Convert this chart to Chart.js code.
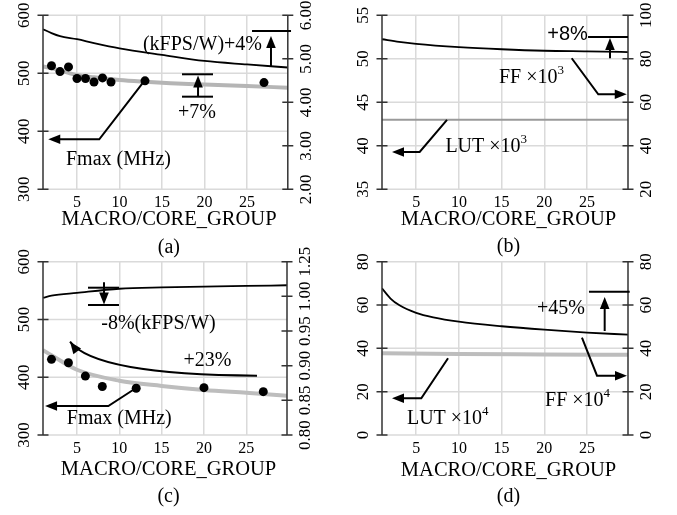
<!DOCTYPE html>
<html><head><meta charset="utf-8">
<script src="https://cdn.jsdelivr.net/npm/chart.js@4.4.0/dist/chart.umd.min.js"></script>
<style>
html,body{margin:0;padding:0;background:#fff;}
#wrap{position:relative;width:677px;height:515px;overflow:hidden;background:#fff;}
#wrap canvas{position:absolute;left:0;top:0;}
</style></head><body>
<div id="wrap">
<canvas id="ca" width="677" height="515"></canvas>
<canvas id="cb" width="677" height="515"></canvas>
<canvas id="cc" width="677" height="515"></canvas>
<canvas id="cd" width="677" height="515"></canvas>
</div>
<script>
// ---------- shared ----------
const xTicks = [5, 10, 15, 20, 25];
const xTitle = 'MACRO/CORE_GROUP';

// ---------- panel (a) ----------
const aDotX = [2, 3, 4, 5, 6, 7, 8, 9, 13, 27];
const aDotY = [513, 503, 511, 491, 491, 485, 492, 485, 487, 484];
const aFitX = [1, 3, 5, 7, 10, 13, 16, 20, 25, 29.8];
const aFitY = [512, 505, 497, 493, 488.5, 485.5, 483, 480.7, 478, 475.2];
const aEffX = [1, 2, 3, 5, 7, 10, 15, 20, 25, 29.8];
const aEffY = [5.68, 5.59, 5.52, 5.45, 5.36, 5.24, 5.09, 4.95, 4.87, 4.80];
const aLeftTicks = [300, 400, 500, 600];
const aRightTicks = [2, 3, 4, 5, 6];
const aRightLabels = ['2.00', '3.00', '4.00', '5.00', '6.00'];

// ---------- panel (b) ----------
const bFfX = [1, 3, 5, 10, 15, 20, 25, 29.8];
const bFfY = [89.0, 87.8, 86.9, 85.4, 84.4, 83.7, 83.4, 83.1];
const bLutX = [1, 10, 20, 29.8];
const bLutY = [43.0, 43.0, 43.0, 43.0];
const bLeftTicks = [35, 40, 45, 50, 55];
const bRightTicks = [20, 40, 60, 80, 100];
const bRightLabels = ['20', '40', '60', '80', '100'];

// ---------- panel (c) ----------
const cDotX = [2, 4, 6, 8, 12, 20, 27];
const cDotY = [431, 425, 402, 384, 381, 382, 375];
const cFitX = [1, 2, 5, 10, 15, 20, 25, 29.8];
const cFitY = [447, 438, 413, 394, 385, 378, 373, 368];
const cEffX = [1, 2, 5, 10, 15, 20, 25, 29.8];
const cEffY = [0.998, 1.001, 1.005, 1.011, 1.013, 1.014, 1.015, 1.016];
const cLeftTicks = [300, 400, 500, 600];
const cRightTicks = [0.80, 0.85, 0.90, 0.95, 1.00, 1.05];
const cRightLabels = ['0.80', '0.85', '0.90', '0.95', '1.00', '1.25'];

// ---------- panel (d) ----------
const dFfX = [1, 2, 3, 5, 7, 10, 15, 20, 25, 29.8];
const dFfY = [67.7, 63.0, 60.0, 56.4, 54.3, 52.3, 50.2, 48.6, 47.3, 46.3];
const dLutX = [1, 10, 20, 29.8];
const dLutY = [37.7, 37.4, 37.2, 37.0];
const dLeftTicks = [0, 20, 40, 60, 80];
const dRightTicks = [0, 20, 40, 60, 80];
const dRightLabels = ['0', '20', '40', '60', '80'];

// ---------- rendering ----------
const SERIF = '"Liberation Serif", "Times New Roman", serif';
const SANS = '"Liberation Sans", Arial, sans-serif';
const GRID = '#dadada';
const AXIS = '#333';
Chart.defaults.font.family = SERIF;
Chart.defaults.color = '#000';

const pts = (xs, ys) => xs.map((x, i) => ({x: x, y: ys[i]}));

function arrowHead(ctx, fx, fy, tx, ty, len, hw) {
  const a = Math.atan2(ty - fy, tx - fx);
  ctx.beginPath();
  ctx.moveTo(tx, ty);
  ctx.lineTo(tx - len * Math.cos(a) + hw * Math.sin(a), ty - len * Math.sin(a) - hw * Math.cos(a));
  ctx.lineTo(tx - len * Math.cos(a) - hw * Math.sin(a), ty - len * Math.sin(a) + hw * Math.cos(a));
  ctx.closePath();
  ctx.fill();
}

function panelPlugin(P) {
  return {
    id: 'panel_' + P.cap,
    beforeDatasetsDraw(chart) {
      const ctx = chart.ctx, a = chart.chartArea, ys = chart.scales.y;
      ctx.save();
      ctx.strokeStyle = GRID; ctx.lineWidth = 1.5;
      P.leftTicks.forEach(v => {
        const py = ys.getPixelForValue(v);
        ctx.beginPath(); ctx.moveTo(a.left, py); ctx.lineTo(a.right, py); ctx.stroke();
      });
      ctx.restore();
    },
    afterDraw(chart) {
      const ctx = chart.ctx, a = chart.chartArea;
      const xs = chart.scales.x, ys = chart.scales.y, yr = chart.scales.y1;
      const X = v => xs.getPixelForValue(v), Y = v => ys.getPixelForValue(v);
      ctx.save();
      // axes
      ctx.strokeStyle = AXIS; ctx.lineWidth = 1.5;
      ctx.beginPath();
      ctx.moveTo(a.left, a.top); ctx.lineTo(a.left, a.bottom);
      ctx.moveTo(a.right, a.top); ctx.lineTo(a.right, a.bottom);
      P.leftTicks.forEach(v => { const py = ys.getPixelForValue(v); ctx.moveTo(a.left - 5.5, py); ctx.lineTo(a.left + 5.5, py); });
      P.rightTicks.forEach(v => { const py = yr.getPixelForValue(v); ctx.moveTo(a.right - 5.5, py); ctx.lineTo(a.right + 5.5, py); });
      ctx.stroke();
      // rotated tick labels
      ctx.fillStyle = '#000';
      ctx.font = '17px ' + SERIF;
      ctx.textAlign = 'center'; ctx.textBaseline = 'middle';
      P.leftTicks.forEach(v => {
        ctx.save(); ctx.translate(a.left - 18, ys.getPixelForValue(v)); ctx.rotate(-Math.PI / 2);
        ctx.fillText(String(v), 0, 0); ctx.restore();
      });
      P.rightTicks.forEach((v, i) => {
        ctx.save(); ctx.translate(a.right + 18.5, yr.getPixelForValue(v)); ctx.rotate(-Math.PI / 2);
        ctx.fillText(P.rightLabels[i], 0, 0); ctx.restore();
      });
      // annotations
      ctx.strokeStyle = '#000'; ctx.fillStyle = '#000'; ctx.lineWidth = 2;
      P.notes.forEach(n => {
        if (n.t === 'path') {
          const p = n.p.map(q => [X(q[0]), Y(q[1])]);
          const L = p.length;
          let end = p[L - 1];
          if (n.arrow) {
            const f = p[L - 2];
            const ang = Math.atan2(end[1] - f[1], end[0] - f[0]);
            end = [end[0] - 9 * Math.cos(ang), end[1] - 9 * Math.sin(ang)];
          }
          ctx.beginPath(); ctx.moveTo(p[0][0], p[0][1]);
          for (let i = 1; i < L - 1; i++) ctx.lineTo(p[i][0], p[i][1]);
          ctx.lineTo(end[0], end[1]);
          ctx.stroke();
          if (n.arrow) arrowHead(ctx, p[L - 2][0], p[L - 2][1], p[L - 1][0], p[L - 1][1], 12, 4.8);
        } else if (n.t === 'curve') {
          const p0 = [X(n.p0[0]), Y(n.p0[1])], c = [X(n.c[0]), Y(n.c[1])], p1 = [X(n.p1[0]), Y(n.p1[1])];
          ctx.beginPath(); ctx.moveTo(p0[0], p0[1]); ctx.quadraticCurveTo(c[0], c[1], p1[0], p1[1]); ctx.stroke();
          arrowHead(ctx, c[0], c[1], p1[0], p1[1], 12, 4.8);
        } else if (n.t === 'text') {
          const cx = X(n.x), cy = Y(n.y);
          const fam = n.sans ? SANS : SERIF;
          ctx.font = (n.size || 20) + 'px ' + fam;
          ctx.textBaseline = 'middle';
          const w1 = ctx.measureText(n.s).width;
          let w2 = 0;
          if (n.sup) { ctx.font = '13px ' + fam; w2 = ctx.measureText(n.sup).width; }
          const left = cx - (w1 + w2) / 2;
          ctx.textAlign = 'left';
          ctx.font = (n.size || 20) + 'px ' + fam;
          ctx.fillText(n.s, left, cy);
          if (n.sup) { ctx.font = '13px ' + fam; ctx.fillText(n.sup, left + w1, cy - 7); }
        }
      });
      // x-axis title and caption
      const mid = (a.left + a.right) / 2 + 3.5;
      ctx.textAlign = 'center'; ctx.textBaseline = 'middle';
      ctx.font = '20.5px ' + SERIF;
      ctx.fillText(xTitle, mid, P.titleY);
      ctx.font = '20px ' + SERIF;
      ctx.fillText('(' + P.cap + ')', mid, P.capY);
      ctx.restore();
    }
  };
}

function makePanel(id, P) {
  new Chart(document.getElementById(id), {
    type: 'line',
    data: {datasets: P.datasets},
    options: {
      responsive: false, animation: false, devicePixelRatio: 1,
      layout: {padding: {left: P.area[0], right: 677 - P.area[1], top: P.area[2], bottom: 515 - P.area[3] - 40}},
      plugins: {legend: {display: false}, tooltip: {enabled: false}, title: {display: false}},
      elements: {point: {radius: 0}, line: {cubicInterpolationMode: 'monotone'}},
      scales: {
        x: {
          type: 'linear', min: 1, max: 29.8,
          afterBuildTicks: s => { s.ticks = xTicks.map(v => ({value: v})); },
          afterFit: s => { s.height = 40; },
          grid: {color: GRID, lineWidth: 1.5, drawTicks: false},
          border: {display: false},
          ticks: {color: '#000', font: {family: SERIF, size: 16}, padding: 4, maxRotation: 0, autoSkip: false},
          title: {display: false, text: xTitle}
        },
        y: {display: false, min: P.yl[0], max: P.yl[1]},
        y1: {display: false, position: 'right', min: P.yr[0], max: P.yr[1]}
      }
    },
    plugins: [panelPlugin(P)]
  });
}

const dotSet = (xs, ys) => ({type: 'scatter', data: pts(xs, ys), yAxisID: 'y', pointRadius: 4.5, pointBackgroundColor: '#000', pointBorderWidth: 0, showLine: false, order: 0});
const graySet = (xs, ys, w, col) => ({data: pts(xs, ys), yAxisID: 'y', borderColor: col, borderWidth: w, pointRadius: 0, fill: false, order: 2});
const blackSet = (xs, ys, ax) => ({data: pts(xs, ys), yAxisID: ax, borderColor: '#000', borderWidth: 1.8, pointRadius: 0, fill: false, order: 1});

makePanel('ca', {
  cap: 'a', capY: 248, titleY: 220, area: [43, 287.8, 15.3, 189.3],
  yl: [300, 600], yr: [2, 6],
  leftTicks: aLeftTicks, rightTicks: aRightTicks, rightLabels: aRightLabels,
  datasets: [dotSet(aDotX, aDotY), graySet(aFitX, aFitY, 4, '#b5b5b5'), blackSet(aEffX, aEffY, 'y1')],
  notes: [
    {t: 'text', x: 19.76, y: 548.8, s: '(kFPS/W)+4%'},
    {t: 'path', p: [[25.59, 572.9], [30.18, 572.9]]},
    {t: 'path', p: [[27.82, 510.9], [27.82, 564.3]], arrow: true},
    {t: 'path', p: [[17.35, 498.3], [21.0, 498.3]]},
    {t: 'path', p: [[17.35, 459.7], [21.0, 459.7]]},
    {t: 'path', p: [[19.24, 459.7], [19.24, 496]], arrow: true},
    {t: 'text', x: 19.12, y: 432.8, s: '+7%'},
    {t: 'path', p: [[12.88, 486.2], [7.62, 386.2], [1.62, 386.2]], arrow: true},
    {t: 'text', x: 9.88, y: 350.5, s: 'Fmax (MHz)'}
  ]
});

makePanel('cb', {
  cap: 'b', capY: 247, titleY: 220, area: [382, 628, 15.3, 189.3],
  yl: [35, 55], yr: [20, 100],
  leftTicks: bLeftTicks, rightTicks: bRightTicks, rightLabels: bRightLabels,
  datasets: [graySet(bLutX, bLutY, 2, '#9a9a9a'), blackSet(bFfX, bFfY, 'y1')],
  notes: [
    {t: 'text', x: 22.72, y: 52.74, s: '+8%', sans: true},
    {t: 'path', p: [[25.12, 52.51], [29.8, 52.51]]},
    {t: 'path', p: [[27.69, 50.06], [27.69, 52.39]], arrow: true},
    {t: 'path', p: [[23.21, 50.06], [26.32, 45.92], [29.65, 45.92]], arrow: true},
    {t: 'text', x: 18.5, y: 47.79, s: 'FF \u00d710', sup: '3'},
    {t: 'path', p: [[8.61, 42.97], [5.41, 39.29], [2.17, 39.29]], arrow: true},
    {t: 'text', x: 13.2, y: 39.9, s: 'LUT \u00d710', sup: '3'}
  ]
});

makePanel('cc', {
  cap: 'c', capY: 497, titleY: 470, area: [43, 287, 261.7, 435],
  yl: [300, 600], yr: [0.80, 1.05],
  leftTicks: cLeftTicks, rightTicks: cRightTicks, rightLabels: cRightLabels,
  datasets: [dotSet(cDotX, cDotY), graySet(cFitX, cFitY, 4, '#bdbdbd'), blackSet(cEffX, cEffY, 'y1')],
  notes: [
    {t: 'text', x: 14.63, y: 493.4, s: '-8%(kFPS/W)'},
    {t: 'path', p: [[6.31, 555.0], [9.97, 555.0]]},
    {t: 'path', p: [[6.31, 525.0], [9.97, 525.0]]},
    {t: 'path', p: [[8.2, 564.3], [8.2, 525.9]], arrow: true},
    {t: 'text', x: 20.42, y: 428.1, s: '+23%'},
    {t: 'curve', p0: [26.26, 402.7], c: [7.14, 403.9], p1: [4.19, 461.5]},
    {t: 'path', p: [[11.94, 380.9], [8.71, 350.2], [1.24, 350.2]], arrow: true},
    {t: 'text', x: 10.0, y: 328.9, s: 'Fmax (MHz)'}
  ]
});

makePanel('cd', {
  cap: 'd', capY: 497, titleY: 471, area: [382, 628, 261.7, 435],
  yl: [0, 80], yr: [0, 80],
  leftTicks: dLeftTicks, rightTicks: dRightTicks, rightLabels: dRightLabels,
  datasets: [graySet(dLutX, dLutY, 4, '#bdbdbd'), blackSet(dFfX, dFfY, 'y1')],
  notes: [
    {t: 'text', x: 21.96, y: 58.16, s: '+45%'},
    {t: 'path', p: [[25.23, 66.15], [30.0, 66.15]]},
    {t: 'path', p: [[27.07, 48.0], [27.07, 63.7]], arrow: true},
    {t: 'path', p: [[24.41, 44.91], [26.17, 27.37], [29.68, 27.37]], arrow: true},
    {t: 'text', x: 23.89, y: 15.83, s: 'FF \u00d710', sup: '4'},
    {t: 'path', p: [[8.73, 35.4], [5.6, 16.94], [2.17, 16.94]], arrow: true},
    {t: 'text', x: 8.70, y: 7.70, s: 'LUT \u00d710', sup: '4'}
  ]
});
</script>
</body></html>
